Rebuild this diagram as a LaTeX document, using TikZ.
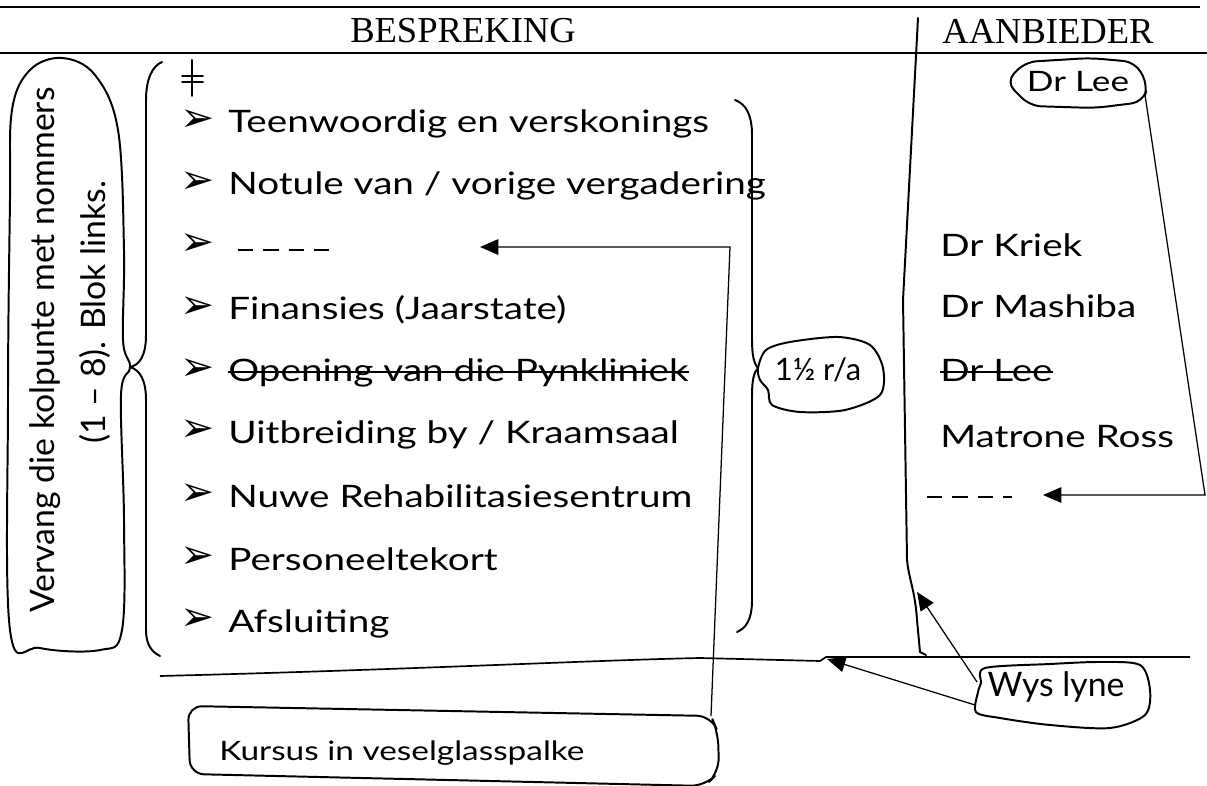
\documentclass[tikz,border=0pt]{standalone}
\usepackage{fontspec}
\setmainfont{Liberation Serif}
\newfontfamily\hand[FakeStretch=1.25]{Lato}
\newfontfamily\note{Lato}
\newfontfamily\sym{DejaVu Sans}
\usetikzlibrary{arrows.meta}

\tikzset{
  rule/.style={line width=1.2pt},
  pen/.style={line width=1.4pt, line cap=round, line join=round},
  pointer/.style={line width=0.9pt, -{Triangle[length=13pt,width=11pt]}},
  head/.style={font=\fontsize{26}{30}\selectfont, inner sep=0pt},
  item/.style={anchor=base west, font=\hand\fontsize{22}{26}\selectfont, inner sep=0pt},
  bullet/.style={font=\sym\fontsize{29}{32}\selectfont, inner sep=0pt},
  remark/.style={font=\note\fontsize{24}{28}\selectfont, inner sep=0pt},
  placeholder/.style={pen, dash pattern=on 11pt off 7pt, line cap=butt},
  strike/.style={line width=1.3pt}
}

\begin{document}
\begin{tikzpicture}[x=0.025cm, y=-0.025cm]
        \useasboundingbox (0,0) rectangle (1207,786);

        \draw[rule] (0,7) -- (1200,7);
        \draw[rule] (0,53) -- (1207,53);
        \node[head] (besp) at (463,31) {BESPREKING};
        \node[head] (aanb) at (1048,31) {AANBIEDER};

        \draw[pen] (918,18) -- (903,300) -- (907,560) .. controls (909,580) and (915,590) .. (917,620) -- (920,652) -- (926,655);
        \draw[rule] (160,676) .. controls (400,670) and (600,660) .. (700,658) -- (820,661) -- (826,657) -- (1190,657);

        \draw[pen] (192,60) -- (192,96);
        \draw[pen] (182,76) -- (203,76);
        \draw[pen] (182,82) -- (203,82);

        \node[bullet] (b1) at (198,121) {➢};
        \node[bullet] (b2) at (198,183) {➢};
        \node[bullet] (b3) at (198,245) {➢};
        \node[bullet] (b4) at (198,308) {➢};
        \node[bullet] (b5) at (198,370) {➢};
        \node[bullet] (b6) at (198,431) {➢};
        \node[bullet] (b7) at (198,495) {➢};
        \node[bullet] (b8) at (198,558) {➢};
        \node[bullet] (b9) at (198,620) {➢};

        \node[item] (it1) at (228,133) {Teenwoordig en verskonings};
        \node[item] (it2) at (228,195) {Notule van / vorige vergadering};
        \coordinate (it3) at (238,250);
        \coordinate (it3end) at (332,250);
        \draw[placeholder] (it3) -- (it3end);
        \node[item] (it4) at (228,320) {Finansies (Jaarstate)};
        \node[item] (it5) at (228,382) {Opening van die Pynkliniek};
        \draw[strike] ([yshift=7pt]it5.base west) -- ([yshift=7pt]it5.base east);
        \node[item] (it6) at (228,443) {Uitbreiding by / Kraamsaal};
        \node[item] (it7) at (228,507) {Nuwe Rehabilitasiesentrum};
        \node[item] (it8) at (228,570) {Personeeltekort};
        \node[item] (it9) at (228,632) {Afsluiting};

        \node[item] (kriek) at (940,257) {Dr Kriek};
        \node[item] (mashiba) at (940,318) {Dr Mashiba};
        \node[item] (lee) at (940,382) {Dr Lee};
        \draw[strike] ([yshift=7pt]lee.base west) -- ([yshift=7pt]lee.base east);
        \node[item] (ross) at (940,447) {Matrone Ross};
        \coordinate (open) at (927,497);
        \coordinate (openend) at (1012,497);
        \draw[placeholder] (open) -- (openend);

        \draw[pen] (162,62) .. controls (152,66) and (146,80) .. (146,100) -- (146,335) .. controls (146,355) and (140,365) .. (130,367) .. controls (140,370) and (146,380) .. (146,400) -- (146,630) .. controls (146,645) and (152,652) .. (160,656);
        \draw[pen] (735,100) .. controls (746,104) and (752,115) .. (752,135) -- (752,340) .. controls (752,355) and (754,364) .. (758,368) .. controls (754,372) and (752,380) .. (752,395) -- (752,600) .. controls (752,620) and (746,628) .. (737,632);

        \node[remark, rotate=90] (vervang) at (45,350) {Vervang die kolpunte met nommers};
        \node[remark, rotate=90] (blok) at (95,312) {(1 – 8). Blok links.};
        \draw[pen] plot[smooth cycle, tension=0.6] coordinates {(12,110) (30,70) (62,58) (95,75) (118,130) (124,250) (123,340) (130,367) (121,395) (124,520) (122,630) (100,650) (40,648) (10,630) (8,400) (10,200)};

        \node[remark, anchor=base, font=\note\fontsize{22}{26}\selectfont] (rate) at (818,381) {1½ r/a};
        \draw[pen] plot[smooth cycle, tension=0.5] coordinates {(758,368) (766,350) (790,342) (838,337) (870,345) (883,368) (880,395) (845,410) (800,412) (772,405) (768,390) (760,380)};

        \node[item, anchor=base, font=\hand\fontsize{20}{24}\selectfont] (drlee) at (1078,92) {Dr Lee};
        \draw[pen, rounded corners=8pt] (1090,58) -- (1135,62) -- (1148,85) -- (1143,102) -- (1095,108) -- (1030,106) -- (1006,82) -- (1025,62) -- cycle;

        \node[remark, anchor=base] (wys) at (1056,696) {Wys lyne};
        \draw[pen] plot[smooth cycle, tension=0.5] coordinates {(985,668) (1050,664) (1100,662) (1140,665) (1150,690) (1145,715) (1110,728) (1050,725) (1000,718) (976,712) (978,692) (981,683)};

        \node[item, anchor=base west, font=\hand\fontsize{19}{22}\selectfont] (kursus) at (219,760) {Kursus in veselglasspalke};
        \draw[pen, rounded corners=10pt] (450,711) -- (711,716) -- (718,732) -- (719,772) -- (705,786) -- (190,774) -- (188,706) -- cycle;

        \coordinate (kcorner) at (711,716);
        \coordinate (kbend) at (730,247);
        \coordinate (dashtip) at (480,247);
        \draw[pointer] (kcorner) -- (kbend) -- (dashtip);

        \coordinate (leecorner) at (1145,95);
        \coordinate (rbend) at (1205,495);
        \coordinate (opentip) at (1043,495);
        \draw[pointer] (leecorner) -- (rbend) -- (opentip);

        \coordinate (wysa) at (977,682);
        \coordinate (coltip) at (917,592);
        \coordinate (wysb) at (975,705);
        \coordinate (rowtip) at (827,659);
        \draw[pointer] (wysa) -- (coltip);
        \draw[pointer] (wysb) -- (rowtip);

    \end{tikzpicture}
\end{document}
